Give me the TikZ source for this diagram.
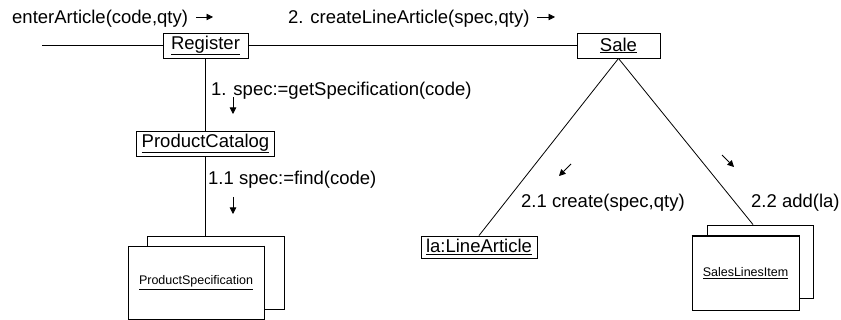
\documentclass[tikz,border=0pt]{standalone}
\usepackage{fontspec}
\setmainfont{Liberation Sans}
\usetikzlibrary{arrows.meta,calc}
\begin{document}
\begin{tikzpicture}[x=1pt,y=-1pt,
  obj/.style={draw,line width=0.9pt,fill=white,inner sep=0pt,font=\fontsize{18.5}{20}\selectfont},
  multi/.style={draw,line width=0.9pt,fill=white,inner sep=0pt,font=\fontsize{12.5}{14}\selectfont},
  lbl/.style={anchor=base west,inner sep=0pt,font=\fontsize{18.5}{20}\selectfont},
  link/.style={line width=0.8pt},
  edge/.style={line width=1.6pt},
  msg/.style={line width=0.8pt,-{Triangle[length=6.5pt,width=6.5pt]}}]
\useasboundingbox (0,0) rectangle (841,320);
% objects
\node[obj,minimum width=85pt,minimum height=25pt] (reg) at (205.5,45.5) {\underline{Register}};
\node[obj,minimum width=83pt,minimum height=25pt] (sale) at (618.5,45.5) {\underline{Sale}};
\node[obj,minimum width=138pt,minimum height=25pt] (pc) at (205.5,143.5) {\underline{ProductCatalog}};
\node[obj,minimum width=116pt,minimum height=22pt] (la) at (479,247) {\underline{la:LineArticle}};
% multiobjects
\node[multi,minimum width=137pt,minimum height=73pt] (psb) at (215.5,272.5) {};
\node[multi,minimum width=136pt,minimum height=73pt] (ps) at (196,282.5) {\underline{ProductSpecification}};
\draw[edge] (ps.north east) -- (ps.south east);
\node[multi,minimum width=106pt,minimum height=73pt] (slb) at (760,261.5) {};
\node[multi,minimum width=107pt,minimum height=74pt] (sl) at (745.5,273) {\underline{SalesLinesItem}};
\draw[edge] (sl.north west) -- (sl.north east) -- (sl.south east);
% links
\coordinate (leftend) at (42,45.5);
\draw[link] (leftend) -- (reg.west);
\draw[link] (reg.east) -- (sale.west);
\draw[link] (reg.south) -- (pc.north);
\draw[link] (pc.south) -- (pc.south |- psb.north);
\draw[link] (sale.south) -- (la.north);
\draw[link] (sale.south) -- ([xshift=-7pt]slb.north);
% labels
\node[lbl] (m0) at (12,24) {enterArticle(code,qty)};
\node[lbl] (m2) at (288,24) {2. createLineArticle(spec,qty)};
\node[lbl] (m1) at (211,96) {1. spec:=getSpecification(code)};
\node[lbl] (m11) at (208,185) {1.1 spec:=find(code)};
\node[lbl] (m21) at (521,208) {2.1 create(spec,qty)};
\node[lbl] (m22) at (751,208) {2.2 add(la)};
% message arrows
\coordinate (a0s) at (196,17); \coordinate (a0e) at (213,17);
\coordinate (a2s) at (537,17); \coordinate (a2e) at (555,17);
\coordinate (a1s) at (233,97); \coordinate (a1e) at (233,114);
\coordinate (a11s) at (233,197); \coordinate (a11e) at (233,214);
\coordinate (a21s) at (571,164); \coordinate (a21e) at (559,176);
\coordinate (a22s) at (722,155); \coordinate (a22e) at (734,167);
\draw[msg] (a0s) -- (a0e);
\draw[msg] (a2s) -- (a2e);
\draw[msg] (a1s) -- (a1e);
\draw[msg] (a11s) -- (a11e);
\draw[msg] (a21s) -- (a21e);
\draw[msg] (a22s) -- (a22e);
\end{tikzpicture}
\end{document}
